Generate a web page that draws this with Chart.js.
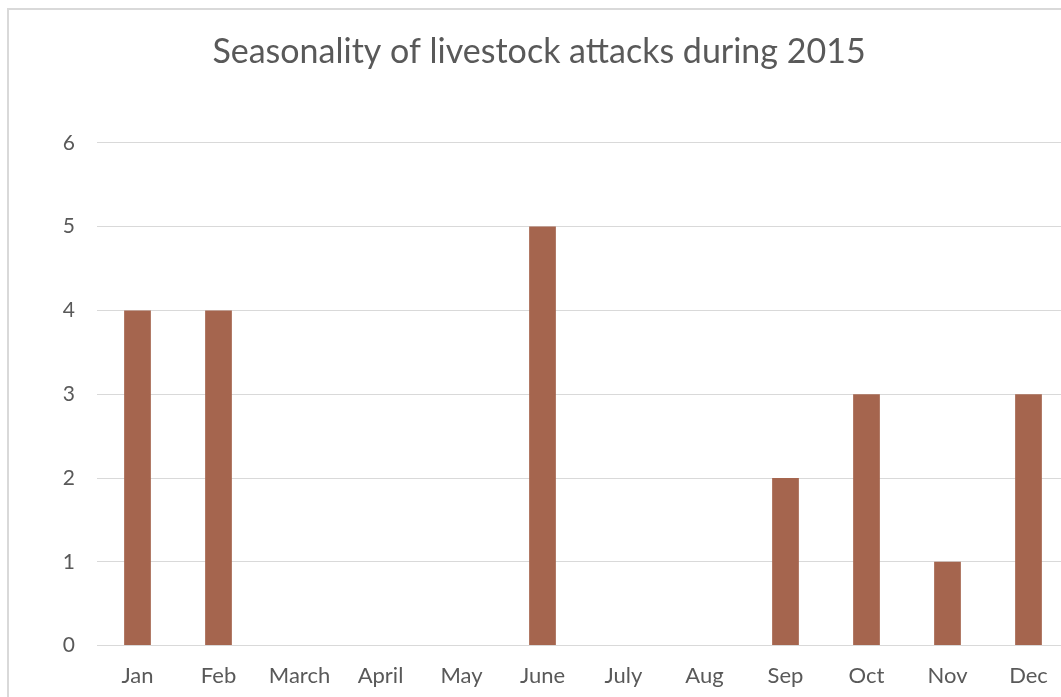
<!DOCTYPE html>
<html>
<head>
<meta charset="utf-8">
<script src="https://cdn.jsdelivr.net/npm/chart.js@4/dist/chart.umd.min.js"></script>
<style>
  html, body { margin: 0; padding: 0; background: #fff; overflow: hidden; }
  #wrap { position: absolute; left: 7px; top: 8px; width: 1060px; height: 704px;
          border-left: 2px solid #d9d9d9; border-top: 2px solid #d9d9d9; }
</style>
</head>
<body>
<div id="wrap"><canvas id="chart" width="1060" height="704"></canvas></div>
<script>
// values
const months = ['Jan', 'Feb', 'March', 'April', 'May', 'June', 'July', 'Aug', 'Sep', 'Oct', 'Nov', 'Dec'];
const attacks = [4, 4, 0, 0, 0, 5, 0, 0, 2, 3, 1, 3];
const yTicks = [0, 1, 2, 3, 4, 5, 6];

const textColor = '#595959';
const font = 'Lato, "Open Sans", sans-serif';

new Chart(document.getElementById('chart'), {
    type: 'bar',
    data: {
        labels: months,
        datasets: [{ data: attacks, backgroundColor: '#a5654e', borderWidth: 0,
                     categoryPercentage: 1, barPercentage: 0.33 }]
    },
    options: {
        responsive: false,
        animation: false,
        layout: { padding: { left: 0, right: 0, top: 0, bottom: 16 } },
        plugins: {
            legend: { display: false },
            tooltip: { enabled: false },
            title: {
                display: true,
                text: 'Seasonality of livestock attacks during 2015',
                color: textColor,
                font: { family: font, size: 34, weight: '400' },
                padding: { top: 22, bottom: 70 }
            }
        },
        scales: {
            x: {
                grid: { display: false },
                border: { display: false },
                ticks: { color: textColor, font: { family: font, size: 22 }, padding: 9, maxRotation: 0 }
            },
            y: {
                min: 0, max: 6,
                afterFit: s => { s.width = 88; },
                afterBuildTicks: s => { s.ticks = yTicks.map(v => ({ value: v })); },
                grid: { color: '#d9d9d9', lineWidth: 1, drawTicks: false },
                border: { display: false },
                ticks: { color: textColor, font: { family: font, size: 21 }, padding: 22 }
            }
        }
    }
});
</script>
</body>
</html>
